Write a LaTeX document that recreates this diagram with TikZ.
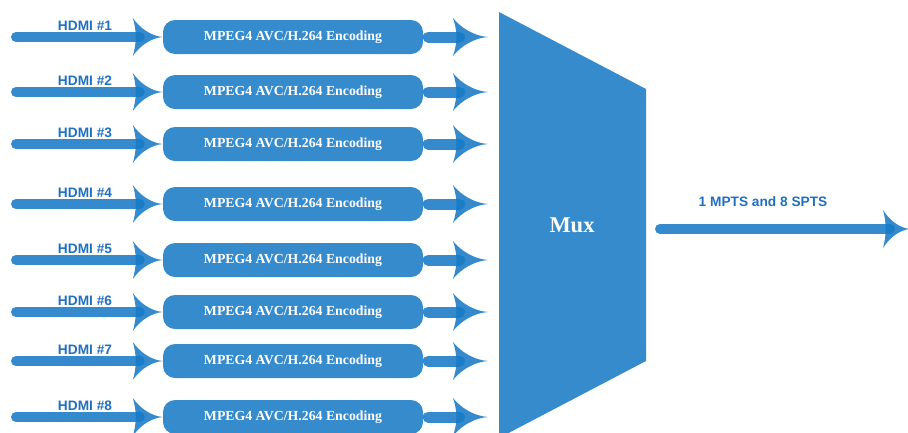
\documentclass[tikz,border=0pt]{standalone}
\usepackage{fontspec}
\setmainfont{Liberation Serif}
\newfontfamily\labelfont{Liberation Sans}
\definecolor{muxblue}{RGB}{54,139,205}
\definecolor{inkblue}{RGB}{22,121,198}
\definecolor{labelblue}{RGB}{32,112,192}
\tikzset{
  encbox/.style={fill=muxblue, rounded corners=12pt, minimum width=260pt, minimum height=34pt,
    inner sep=0pt, text=white, font=\fontsize{13.8}{16}\selectfont\bfseries},
  hdmi/.style={text=labelblue, font=\labelfont\fontsize{13.7}{16}\selectfont\bfseries, inner sep=0pt},
  wire/.style={draw=inkblue, draw opacity=0.87, line width=10pt, line cap=round},
  barb/.pic={\fill[inkblue, fill opacity=0.87] (0,0) .. controls (-12,-1) and (-23,-9) .. (-30,-19)
    .. controls (-26,-6) and (-26,6) .. (-30,19) .. controls (-23,9) and (-12,1) .. (0,0) -- cycle;}
}
\begin{document}
\begin{tikzpicture}[x=1pt, y=-1pt]
  \useasboundingbox (0,0) rectangle (908,432);
  \fill[muxblue] (499,12) -- (646,89) -- (646,361) -- (499,438) -- cycle;
  \node[text=white, font=\fontsize{22.5}{26}\selectfont\bfseries] (mux) at (572,225) {Mux};
  \foreach \i/\y in {1/37,2/92,3/144,4/204,5/260,6/312,7/361,8/417} {
    \coordinate (in\i) at (16,\y);
    \coordinate (tip\i) at (488,\y);
    \node[encbox] (enc\i) at (293,\y) {MPEG4 AVC/H.264 Encoding};
    \node[hdmi] (lab\i) at (85,\y-11) {HDMI \#\i};
    \draw[wire] (in\i) -- ([xshift=-23pt]enc\i.west);
    \pic at (enc\i.west) {barb};
    \draw[wire, line width=11pt] ([xshift=5pt]enc\i.east) -- ([xshift=-28.5pt]tip\i);
    \pic[xscale=1.17] at (tip\i) {barb};
  }
  \coordinate (mxr) at (646,229);
  \coordinate (out) at (910,229);
  \node[hdmi] (mpts) at (763,202) {1 MPTS and 8 SPTS};
  \draw[wire] ([xshift=14pt]mxr) -- ([xshift=-20pt]out);
  \pic[xscale=0.9] at (out) {barb};
\end{tikzpicture}
\end{document}
